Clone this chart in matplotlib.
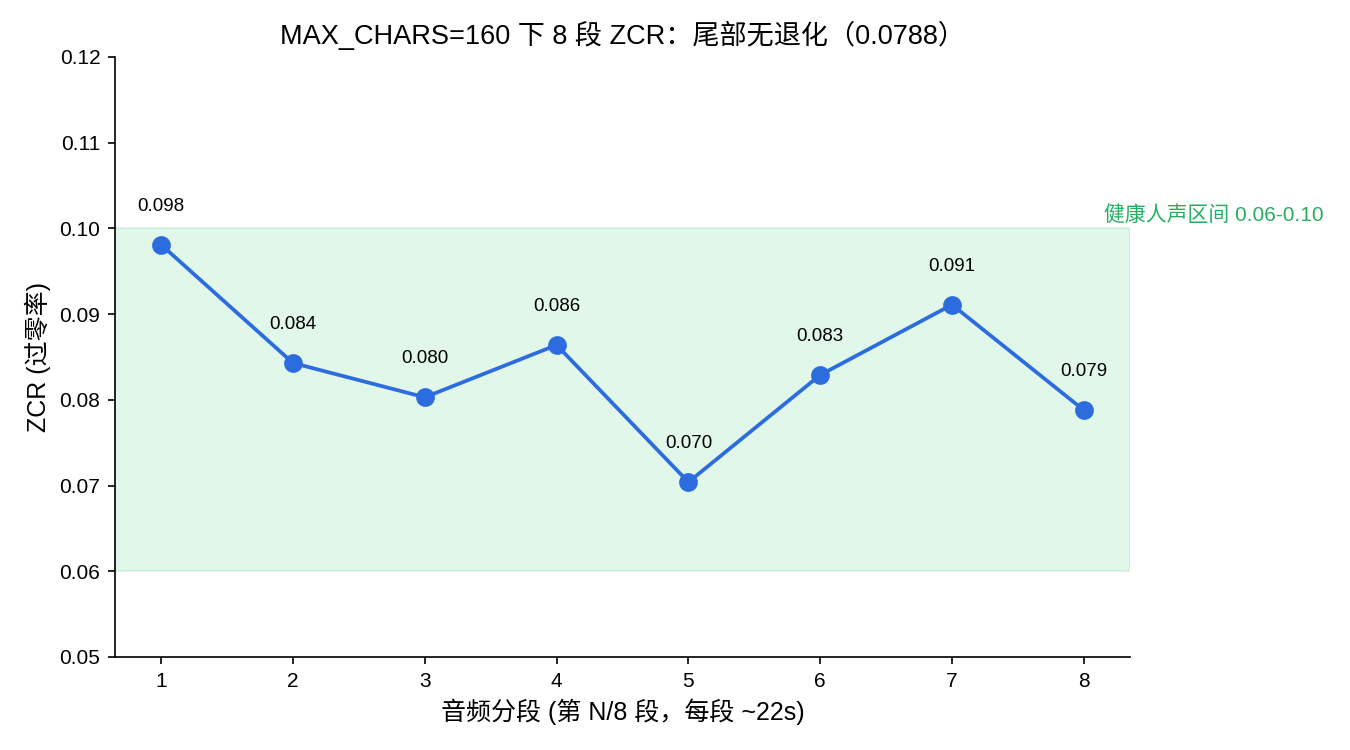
import matplotlib
matplotlib.use("Agg")
import matplotlib.pyplot as plt

plt.rcParams['font.family'] = ['Liberation Sans', 'Noto Sans CJK SC', 'DejaVu Sans']
plt.rcParams['axes.unicode_minus'] = False

segments = [1, 2, 3, 4, 5, 6, 7, 8]
zcr = [0.0981, 0.0843, 0.0803, 0.0864, 0.0704, 0.0829, 0.0911, 0.0788]
labels = ["0.098", "0.084", "0.080", "0.086", "0.070", "0.083", "0.091", "0.079"]
band_low, band_high = 0.06, 0.10
title = "MAX_CHARS=160 下 8 段 ZCR：尾部无退化（0.0788）"
xlabel = "音频分段 (第 N/8 段，每段 ~22s)"
ylabel = "ZCR (过零率)"
band_label = "健康人声区间 0.06-0.10"

fig = plt.figure(figsize=(9, 5), dpi=150)
fig.subplots_adjust(left=0.0852, right=0.837, bottom=0.124, top=0.924)
ax = fig.add_subplot(111)

ax.axhspan(band_low, band_high, color='#2ecc71', alpha=0.14, zorder=0)
ax.plot(segments, zcr, '-o', color='#2c6cdf', lw=1.8, ms=8, zorder=3)
for x, y, t in zip(segments, zcr, labels):
    ax.text(x, y + 0.0035, t, ha='center', va='bottom', fontsize=9, color='black')

ax.text(8.15, band_high + 0.0004, band_label, ha='left', va='bottom', fontsize=10, color='#27ae60')

ax.set_ylim(0.05, 0.12)
ax.set_xticks(segments)
ax.set_yticks([0.05, 0.06, 0.07, 0.08, 0.09, 0.10, 0.11, 0.12])
ax.set_yticklabels(["0.05", "0.06", "0.07", "0.08", "0.09", "0.10", "0.11", "0.12"])
ax.tick_params(labelsize=10)
ax.spines['top'].set_visible(False)
ax.spines['right'].set_visible(False)
ax.set_xlabel(xlabel, fontsize=12)
ax.set_ylabel(ylabel, fontsize=12)
ax.set_title(title, fontsize=13)

fig.savefig("out.png", dpi=150)
